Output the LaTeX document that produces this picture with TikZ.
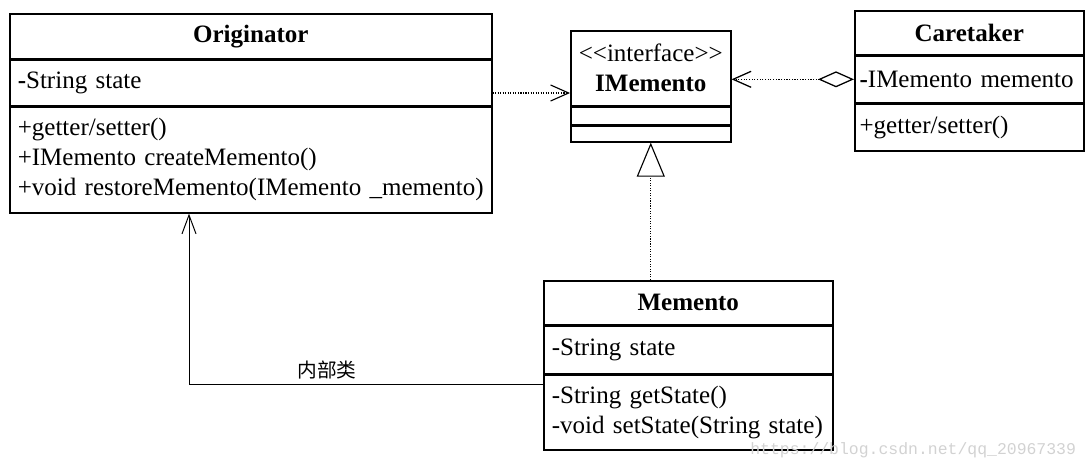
\documentclass[tikz,border=0pt]{standalone}
\usepackage{fontspec}
\setmainfont{Liberation Serif}
\setmonofont{Liberation Mono}
\newfontfamily\cjk{Noto Sans CJK SC}
\usetikzlibrary{positioning,arrows.meta}
\tikzset{
  classpart/.style={draw, line width=1.1pt, inner xsep=0.2cm, inner ysep=0pt, align=left},
  classhead/.style={classpart, align=center, font=\fontsize{17.8}{21.3}\selectfont\bfseries},
  dep/.style={densely dotted, line width=0.8pt, -{Straight Barb[length=0.45cm,width=0.4cm]}},
  aggr/.style={densely dotted, line width=0.9pt, {Diamond[open,fill=white,length=0.9cm,width=0.4cm]}-{Straight Barb[length=0.45cm,width=0.4cm]}},
  real/.style={densely dotted, line width=0.8pt, -{Triangle[open,fill=white,length=0.85cm,width=0.7cm]}},
  assoc/.style={line width=0.7pt, -{Straight Barb[length=0.47cm,width=0.35cm]}}
}
\begin{document}
\begin{tikzpicture}[font=\fontsize{17.8}{21.3}\selectfont]
\useasboundingbox (0,0) rectangle (27.225,-11.725);
% Originator
\node[classhead, text width=11.65cm, minimum height=1.125cm, anchor=north west] (otitle) at (0.225,-0.325) {Originator};
\node[classpart, text width=11.65cm, minimum height=1.125cm, below=0pt of otitle] (oattr) {\textbf{-}String state};
\node[classpart, text width=11.65cm, minimum height=2.65cm, below=0pt of oattr] (ometh) {+getter/setter()\\+IMemento createMemento()\\+void restoreMemento(IMemento \_memento)};
% IMemento
\node[classpart, align=center, text width=3.6cm, minimum height=1.875cm, anchor=north west] (imhead) at (14.25,-0.75) {<{}<interface>{}>\\\textbf{IMemento}};
\node[classpart, text width=3.6cm, minimum height=0.425cm, below=0pt of imhead] (immid) {};
\node[classpart, text width=3.6cm, minimum height=0.4cm, below=0pt of immid] (imbot) {};
% Caretaker
\node[classhead, inner xsep=0.12cm, text width=5.485cm, minimum height=1.1cm, anchor=north west] (ctitle) at (21.35,-0.25) {Caretaker};
\node[classpart, inner xsep=0.12cm, text width=5.485cm, minimum height=1.15cm, below=0pt of ctitle] (cattr) {\mbox{\textbf{-}IMemento memento}};
\node[classpart, inner xsep=0.12cm, text width=5.485cm, minimum height=1.175cm, below=0pt of cattr] (cmeth) {+getter/setter()};
% Memento
\node[classhead, text width=6.825cm, minimum height=1.1cm, anchor=north west] (mtitle) at (13.575,-7.0) {Memento};
\node[classpart, text width=6.825cm, minimum height=1.175cm, below=0pt of mtitle] (mattr) {-String state};
\node[classpart, text width=6.825cm, minimum height=1.875cm, below=0pt of mattr] (mmeth) {-String getState()\\-void setState(String state)};
% connectors
\coordinate (depy) at (0,-2.325);
\draw[dep] (oattr.east |- depy) -- (imhead.west |- depy);
\draw[aggr] (cattr.west) -- (imhead.east |- cattr.west);
\draw[real] (mtitle.north -| imbot.south) -- (imbot.south);
\coordinate (bend) at (4.725,-9.6);
\draw[assoc] (mmeth.west |- bend) -- node[pos=0.61, above, font=\cjk\fontsize{14}{14}\selectfont] (inner) {内部类} (bend) -- (ometh.south -| bend);
% watermark
\node[anchor=west, inner sep=0pt, text=gray!35, font=\ttfamily\fontsize{11.7}{12}\selectfont] (wmark) at (18.75,-11.25) {https://blog.csdn.net/qq\_20967339};
\end{tikzpicture}
\end{document}
